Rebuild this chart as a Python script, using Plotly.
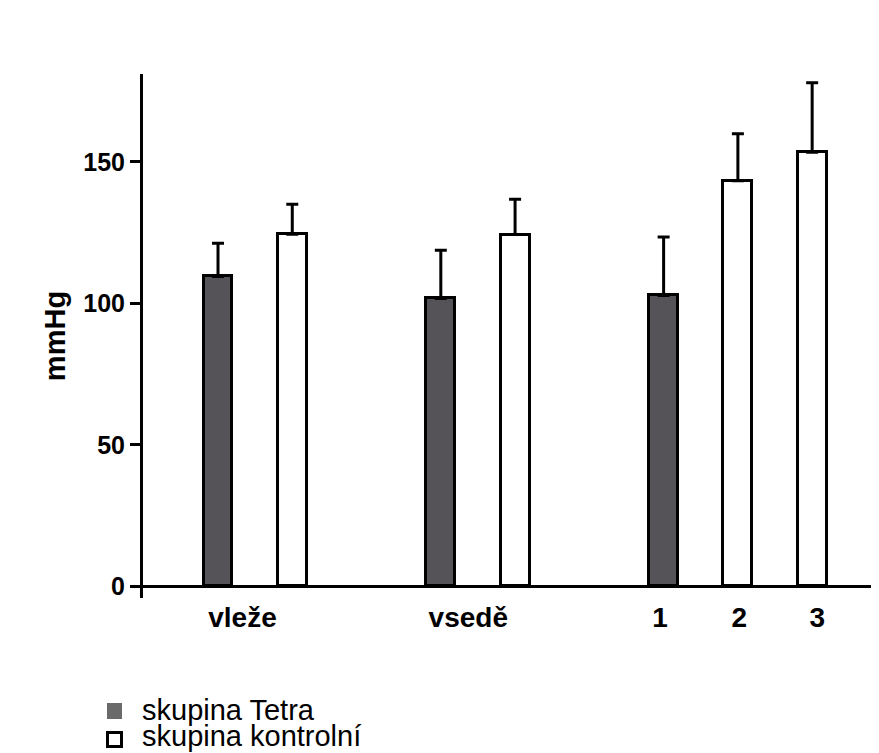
import plotly.graph_objects as go

# ---- data ----
categories = ["vleže", "vsedě", "1", "2", "3"]
groups = ["poloha", "poloha2", "cas", "cas", "cas"]  # categories sharing a group sit side by side
tetra_values = [109.5, 101.7, 102.8, None, None]
tetra_err = [11.7, 17.0, 20.6, None, None]
kontrol_values = [124.4, 124.3, None, 143.3, 153.4]
kontrol_err = [10.6, 12.5, None, 16.6, 24.5]
series_names = ["skupina Tetra", "skupina kontrolní"]
y_ticks = [0, 50, 100, 150]

# ---- slot layout derived from the structure (one empty slot between groups) ----
slot = 0
prev_group = None
tetra_x, tetra_y, tetra_e = [], [], []
kon_x, kon_y, kon_e = [], [], []
cat_centers = []
for i, cat in enumerate(categories):
    if prev_group is not None and groups[i] != prev_group:
        slot += 1
    prev_group = groups[i]
    used = []
    if tetra_values[i] is not None:
        tetra_x.append(slot); tetra_y.append(tetra_values[i]); tetra_e.append(tetra_err[i])
        used.append(slot); slot += 1
    if kontrol_values[i] is not None:
        kon_x.append(slot); kon_y.append(kontrol_values[i]); kon_e.append(kontrol_err[i])
        used.append(slot); slot += 1
    cat_centers.append(sum(used) / len(used))

# small hand nudges of the label positions seen in the reference
label_nudge = [-0.17, -0.13, -0.05, 0.02, 0.07]
label_pos = [c + n for c, n in zip(cat_centers, label_nudge)]

FONT = "Liberation Sans, Arial, sans-serif"
BAR_W = 0.39

fig = go.Figure()
fig.add_trace(go.Bar(
    x=tetra_x, y=tetra_y, width=BAR_W, name=series_names[0],
    marker=dict(color="#555358", line=dict(color="black", width=3)),
    error_y=dict(type="data", symmetric=False, array=tetra_e,
                 arrayminus=[0] * len(tetra_e), color="black", thickness=3, width=6),
    showlegend=False,
))
fig.add_trace(go.Bar(
    x=kon_x, y=kon_y, width=BAR_W, name=series_names[1],
    marker=dict(color="white", line=dict(color="black", width=3)),
    error_y=dict(type="data", symmetric=False, array=kon_e,
                 arrayminus=[0] * len(kon_e), color="black", thickness=3, width=6),
    showlegend=False,
))

# page has an 8px body margin: figure coordinates = page coordinates - 8
OFF = 8
FIG_W, FIG_H = 879 - OFF, 753 - OFF
L, T, PW, PH = 143 - OFF, 74 - OFF, 736, 524


def px(xp):  # page x -> paper
    return (xp - OFF - L) / PW


def py(yp):  # page y -> paper
    return (T + PH - (yp - OFF)) / PH


# legend drawn as shapes + text (tight two-line legend below the chart)
fig.add_shape(type="rect", xref="paper", yref="paper",
              x0=px(107), x1=px(122), y0=py(719), y1=py(703),
              fillcolor="#6a6a6a", line=dict(width=0))
fig.add_shape(type="rect", xref="paper", yref="paper",
              x0=px(107.5), x1=px(121.5), y0=py(746.5), y1=py(732.5),
              fillcolor="white", line=dict(color="black", width=3))
legend_y = [py(710), py(736)]
for name, yy in zip(series_names, legend_y):
    fig.add_annotation(text=name, xref="paper", yref="paper", x=px(140), y=yy,
                       xanchor="left", yanchor="middle", showarrow=False,
                       font=dict(family=FONT, size=29, color="black"))

fig.update_layout(
    width=FIG_W, height=FIG_H,
    margin=dict(l=L, r=0, t=T, b=FIG_H - T - PH),
    plot_bgcolor="white", paper_bgcolor="white",
    bargap=0, barmode="overlay",
    font=dict(family=FONT, color="black"),
)
fig.update_xaxes(
    range=[-1.01, 8.9], showgrid=False, zeroline=False, showline=False,
    tickmode="array", tickvals=label_pos, ticktext=categories,
    ticks="",
    tickfont=dict(family=FONT, size=28, color="black", weight="bold"),
)
fig.update_yaxes(
    range=[-4.1, 181], showgrid=False,
    zeroline=True, zerolinecolor="black", zerolinewidth=3,
    showline=True, linecolor="black", linewidth=3,
    tickmode="array", tickvals=y_ticks,
    ticks="outside", ticklen=10, tickwidth=3, tickcolor="black",
    tickfont=dict(family=FONT, size=25, color="black", weight="bold"),
    title=dict(text="mmHg", font=dict(family=FONT, size=29, color="black", weight="bold"),
               standoff=10),
)

fig.write_html("out.html")
